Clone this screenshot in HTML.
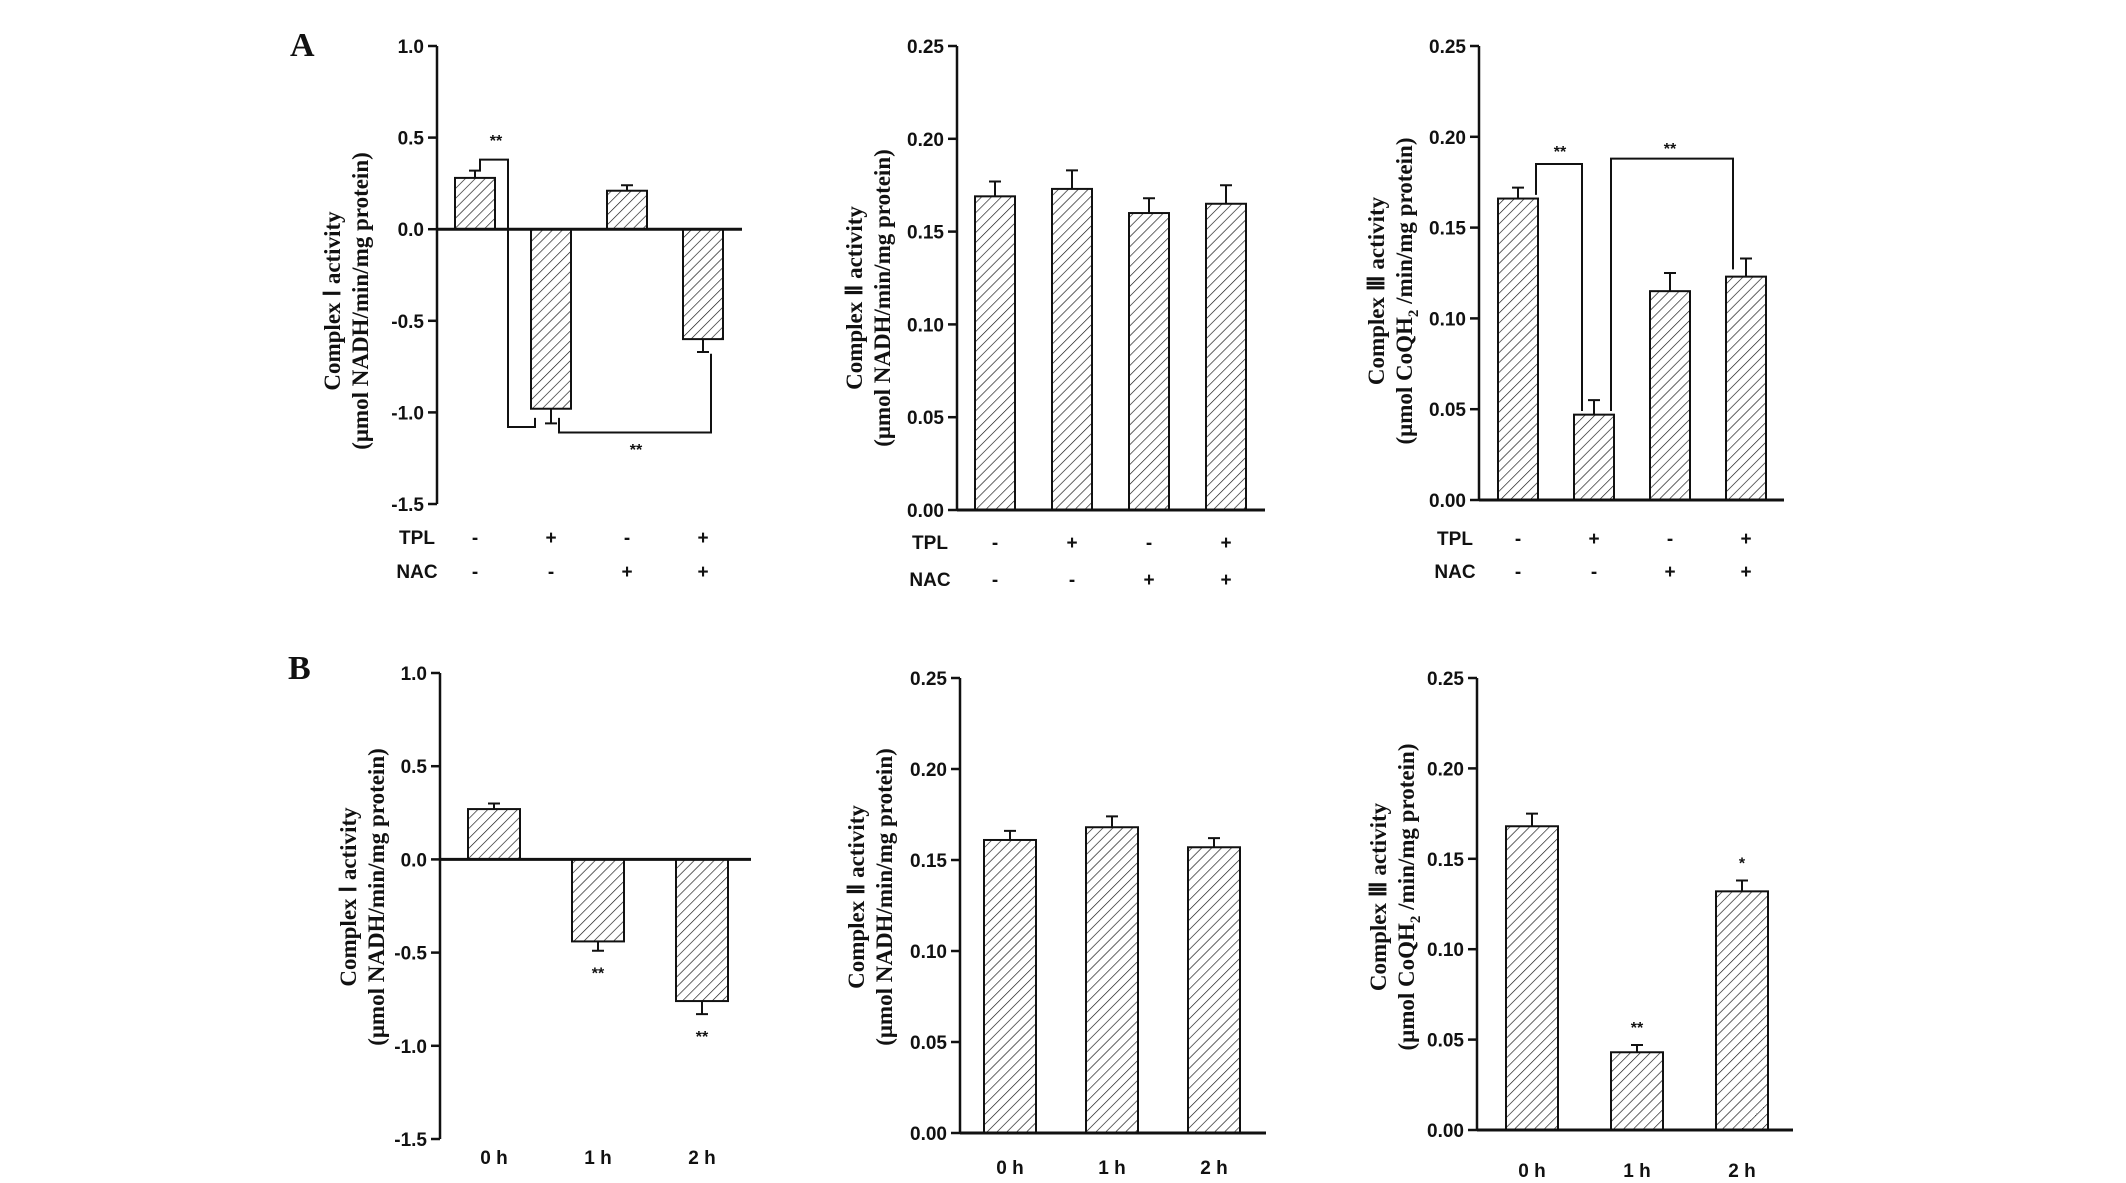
<!DOCTYPE html>
<html><head><meta charset="utf-8"><style>
html,body{margin:0;padding:0;background:#fff;}
svg{display:block;}
.tk{font-family:"Liberation Sans Narrow","Liberation Sans",sans-serif;font-weight:bold;font-size:19px;fill:#111;}
.yt{font-family:"Liberation Serif",serif;font-weight:bold;font-size:23px;fill:#111;}
.pl{font-family:"Liberation Serif",serif;font-weight:bold;font-size:34px;fill:#111;}
.st{font-family:"Liberation Sans",sans-serif;font-weight:bold;font-size:16px;fill:#111;}
</style></head><body>
<svg id="fig" width="2126" height="1183" viewBox="0 0 2126 1183" xmlns="http://www.w3.org/2000/svg">
<defs>
<pattern id="hatch" patternUnits="userSpaceOnUse" width="7" height="7" patternTransform="rotate(45)">
<line x1="0" y1="0" x2="0" y2="7" stroke="#111" stroke-width="1.3"/>
</pattern>
</defs>
<text class="pl" x="290" y="56">A</text>
<text class="pl" x="288" y="679">B</text>
</svg>
<script>
// Panel A1: Complex I
const a1Values = [0.28, -0.98, 0.21, -0.60];
const a1Errors = [0.04, 0.08, 0.03, 0.07];
const a1Ticks = [1.0, 0.5, 0.0, -0.5, -1.0, -1.5];
const a1TickLabels = ["1.0", "0.5", "0.0", "-0.5", "-1.0", "-1.5"];
const a1TPL = ["-", "+", "-", "+"];
const a1NAC = ["-", "-", "+", "+"];
// Panel A2: Complex II
const a2Values = [0.169, 0.173, 0.160, 0.165];
const a2Errors = [0.008, 0.010, 0.008, 0.010];
const a2Ticks = [0.25, 0.20, 0.15, 0.10, 0.05, 0.00];
const a2TickLabels = ["0.25", "0.20", "0.15", "0.10", "0.05", "0.00"];
// Panel A3: Complex III
const a3Values = [0.166, 0.047, 0.115, 0.123];
const a3Errors = [0.006, 0.008, 0.010, 0.010];
// Panel B1
const b1Categories = ["0 h", "1 h", "2 h"];
const b1Values = [0.27, -0.44, -0.76];
const b1Errors = [0.03, 0.05, 0.07];
const b1Stars = ["", "**", "**"];
// Panel B2
const b2Values = [0.161, 0.168, 0.157];
const b2Errors = [0.005, 0.006, 0.005];
// Panel B3
const b3Values = [0.168, 0.043, 0.132];
const b3Errors = [0.007, 0.004, 0.006];
const b3Stars = ["", "**", "*"];

const NS = "http://www.w3.org/2000/svg";
const svg = document.getElementById("fig");
function mk(tag, attrs, parent, txt) {
  const e = document.createElementNS(NS, tag);
  for (const k in attrs) e.setAttribute(k, attrs[k]);
  if (txt !== undefined) e.textContent = txt;
  (parent || svg).appendChild(e);
  return e;
}

function panel(cfg) {
  const g = mk("g", {});
  
  
  const y = v => cfg.y0 + (cfg.vmax - v) / (cfg.vmax - cfg.vmin) * (cfg.y1 - cfg.y0);
  const zeroY = y(0);
  const ax = mk("line", {x1: cfg.ax, y1: cfg.y0, x2: cfg.ax, y2: cfg.y1, stroke: "#111", "stroke-width": 2.5}, g);
  
  
  cfg.ticks.forEach((t, i) => {
    const ty = y(t);
    const tl = mk("line", {x1: cfg.ax - 9, y1: ty, x2: cfg.ax, y2: ty, stroke: "#111", "stroke-width": 2.5}, g);
    
    
    const tx = mk("text", {class: "tk", x: cfg.ax - 13, y: ty + 7, "text-anchor": "end"}, g, cfg.tickLabels[i]);
    
    
  });
  cfg.values.forEach((v, i) => {
    const cx = cfg.cx0 + i * cfg.step;
    const top = Math.min(y(v), zeroY), h = Math.abs(y(v) - zeroY);
    const r = mk("rect", {x: cx - cfg.bw / 2, y: top, width: cfg.bw, height: h, fill: "url(#hatch)", stroke: "#111", "stroke-width": 2}, g);
    
    
    const e = cfg.errors[i];
    const ev = v >= 0 ? v + e : v - e;
    const el = mk("path", {d: `M${cx},${y(v)} L${cx},${y(ev)} M${cx - 6},${y(ev)} L${cx + 6},${y(ev)}`, stroke: "#111", "stroke-width": 2, fill: "none"}, g);
    
    
    if (cfg.stars && cfg.stars[i]) {
      const sy = v >= 0 ? y(ev) - 12 : y(ev) + 28;
      const s = mk("text", {class: "st", x: cx, y: sy, "text-anchor": "middle"}, g, cfg.stars[i]);
      
      
    }
  });
  const xa = mk("line", {x1: cfg.ax, y1: zeroY, x2: cfg.xend, y2: zeroY, stroke: "#111", "stroke-width": 3}, g);
  
  
  if (cfg.cats) {
    cfg.cats.forEach((c, i) => {
      const t = mk("text", {class: "tk", x: cfg.cx0 + i * cfg.step, y: cfg.catY, "text-anchor": "middle", "font-size": 22}, g, c);
      
      
    });
  }
  if (cfg.tpl) {
    const t1 = mk("text", {class: "tk", x: cfg.labX, y: cfg.tplY + 7, "text-anchor": "middle"}, g, "TPL");
    
    
    const t2 = mk("text", {class: "tk", x: cfg.labX, y: cfg.nacY + 7, "text-anchor": "middle"}, g, "NAC");
    
    
    cfg.tpl.forEach((s, i) => {
      const a = mk("text", {class: "tk", x: cfg.cx0 + i * cfg.step, y: cfg.tplY + 7, "text-anchor": "middle", "font-size": 22}, g, s);
      
      
      const b = mk("text", {class: "tk", x: cfg.cx0 + i * cfg.step, y: cfg.nacY + 7, "text-anchor": "middle", "font-size": 22}, g, cfg.nac[i]);
      
      
    });
  }
  const ttl = mk("text", {class: "yt", transform: `translate(${cfg.tx},${cfg.ty}) rotate(-90)`, "text-anchor": "middle"}, g);
  
  
  mk("tspan", {x: 0, y: 0}, ttl, cfg.title1);
  const l2 = mk("tspan", {x: 0, y: 28}, ttl);
  l2.innerHTML = cfg.title2;
  (cfg.brackets || []).forEach(b => {
    const p = mk("path", {d: b.d(y), stroke: "#111", "stroke-width": 2, fill: "none"}, g);
    
    
    const s = mk("text", {class: "st", x: b.sx, y: b.sy, "text-anchor": "middle"}, g, "**");
    
    
  });
}

const t1a = "Complex \u2160 activity";
const t2a = "Complex \u2161 activity";
const t3a = "Complex \u2162 activity";
const tNADH = "(\u03bcmol NADH/min/mg protein)";
const tCoQ = '(\u03bcmol CoQH<tspan font-size="15" dy="6">2</tspan><tspan dy="-6"> /min/mg protein)</tspan>';

panel({name: "panel-a-complex-1", ax: 437, y0: 46, y1: 504, vmax: 1.0, vmin: -1.5, ticks: a1Ticks, tickLabels: a1TickLabels,
  values: a1Values, errors: a1Errors, cx0: 475, step: 76, bw: 40, xend: 742,
  tpl: a1TPL, nac: a1NAC, labX: 417, tplY: 537, nacY: 571, tx: 340, ty: 301, title1: t1a, title2: tNADH,
  brackets: [
    {d: y => `M480,${y(0.32)} L480,${y(0.38)} L508,${y(0.38)} L508,${y(-1.08)} L535,${y(-1.08)} L535,${y(-1.03)}`, sx: 496, sy: 146},
    {d: y => `M559,${y(-1.03)} L559,${y(-1.11)} L711,${y(-1.11)} L711,${y(-0.68)}`, sx: 636, sy: 455}
  ]});
panel({name: "panel-a-complex-2", ax: 957, y0: 46, y1: 510, vmax: 0.25, vmin: 0, ticks: a2Ticks, tickLabels: a2TickLabels,
  values: a2Values, errors: a2Errors, cx0: 995, step: 77, bw: 40, xend: 1265,
  tpl: a1TPL, nac: a1NAC, labX: 930, tplY: 542, nacY: 579, tx: 862, ty: 298, title1: t2a, title2: tNADH});
panel({name: "panel-a-complex-3", ax: 1479, y0: 46, y1: 500, vmax: 0.25, vmin: 0, ticks: a2Ticks, tickLabels: a2TickLabels,
  values: a3Values, errors: a3Errors, cx0: 1518, step: 76, bw: 40, xend: 1784,
  tpl: a1TPL, nac: a1NAC, labX: 1455, tplY: 538, nacY: 571, tx: 1384, ty: 291, title1: t3a, title2: tCoQ,
  brackets: [
    {d: y => `M1536,${y(0.168)} L1536,${y(0.185)} L1582,${y(0.185)} L1582,${y(0.049)}`, sx: 1560, sy: 157},
    {d: y => `M1611,${y(0.049)} L1611,${y(0.188)} L1733,${y(0.188)} L1733,${y(0.127)}`, sx: 1670, sy: 154}
  ]});
panel({name: "panel-b-complex-1", ax: 440, y0: 673, y1: 1139, vmax: 1.0, vmin: -1.5, ticks: a1Ticks, tickLabels: a1TickLabels,
  values: b1Values, errors: b1Errors, stars: b1Stars, cx0: 494, step: 104, bw: 52, xend: 751,
  cats: b1Categories, catY: 1164, tx: 356, ty: 897, title1: t1a, title2: tNADH});
panel({name: "panel-b-complex-2", ax: 960, y0: 678, y1: 1133, vmax: 0.25, vmin: 0, ticks: a2Ticks, tickLabels: a2TickLabels,
  values: b2Values, errors: b2Errors, cx0: 1010, step: 102, bw: 52, xend: 1266,
  cats: b1Categories, catY: 1174, tx: 864, ty: 897, title1: t2a, title2: tNADH});
panel({name: "panel-b-complex-3", ax: 1477, y0: 678, y1: 1130, vmax: 0.25, vmin: 0, ticks: a2Ticks, tickLabels: a2TickLabels,
  values: b3Values, errors: b3Errors, stars: b3Stars, cx0: 1532, step: 105, bw: 52, xend: 1793,
  cats: b1Categories, catY: 1177, tx: 1386, ty: 897, title1: t3a, title2: tCoQ});
</script>
</body></html>
